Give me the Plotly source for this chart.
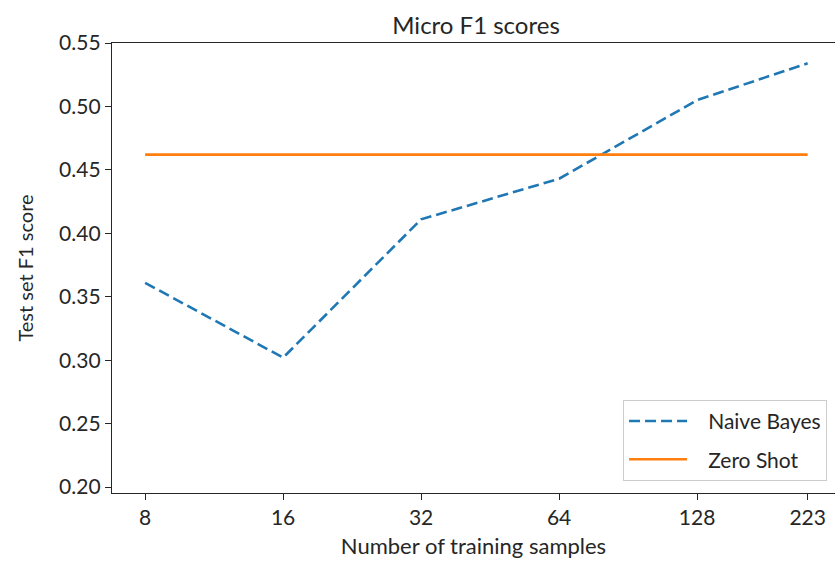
import numpy as np
import plotly.graph_objects as go

# Training set sizes and micro-averaged F1 on the test set
train_samples = [8, 16, 32, 64, 128, 223]
naive_bayes_f1 = [0.361, 0.302, 0.411, 0.443, 0.505, 0.534]
zero_shot_f1 = [0.462, 0.462, 0.462, 0.462, 0.462, 0.462]
tick_labels = ["8", "16", "32", "64", "128", "223"]
series_names = ["Naive Bayes", "Zero Shot"]

FONT = "Lato"
INK = "#262626"
GAP = "\u00a0" * 3  # breathing room between legend line and its label

fig = go.Figure()
fig.add_trace(go.Scatter(
    x=train_samples, y=naive_bayes_f1, mode="lines", name=GAP + series_names[0],
    legendgroup="nb",
    line=dict(color="#1f77b4", width=2.6, dash="11px,5px"),
))
fig.add_trace(go.Scatter(
    x=train_samples, y=zero_shot_f1, mode="lines", name=GAP + series_names[1],
    legendgroup="zs",
    line=dict(color="#ff7f0e", width=2.6),
))

# log2-spaced x axis with 5% padding on the left; the right side runs past the page
lo, hi = np.log10(train_samples[0]), np.log10(train_samples[-1])
pad = 0.05 * (hi - lo)
x_start = lo - pad
x_end = x_start + 723 * np.log10(2) / 138

fig.update_layout(
    width=835, height=567,
    margin=dict(l=112, r=0, t=43, b=74),
    paper_bgcolor="white", plot_bgcolor="white",
    font=dict(family=FONT, size=20, color=INK),
    title=dict(text="Micro F1 scores", x=0.5035, xref="paper", xanchor="center",
               y=1, yref="paper", yanchor="bottom", pad=dict(b=9),
               font=dict(family=FONT, size=24, color=INK)),
    showlegend=True,
    legend=dict(x=0.989, y=0.027, xanchor="right", yanchor="bottom",
                bgcolor="white", bordercolor="#cccccc", borderwidth=1,
                font=dict(family=FONT, size=21, color=INK),
                itemwidth=58, tracegroupgap=8),
)
fig.update_xaxes(
    type="log", range=[x_start, x_end],
    tickmode="array", tickvals=train_samples, ticktext=tick_labels,
    ticks="outside", ticklen=6, tickwidth=1.2, tickcolor=INK,
    showline=True, linecolor=INK, linewidth=1.4, mirror=True,
    showgrid=False, zeroline=False,
    tickfont=dict(family=FONT, size=21, color=INK),
    title=dict(text="Number of training samples", standoff=10,
               font=dict(family=FONT, size=22, color=INK)),
)
fig.update_yaxes(
    range=[0.1953, 0.55],
    tickmode="array", tickvals=[0.20, 0.25, 0.30, 0.35, 0.40, 0.45, 0.50, 0.55],
    tickformat=".2f",
    ticks="outside", ticklen=6, tickwidth=1.2, tickcolor=INK,
    showline=True, linecolor=INK, linewidth=1.4, mirror=False,
    showgrid=False, zeroline=False,
    tickfont=dict(family=FONT, size=21, color=INK),
    title=dict(text="Test set F1 score", standoff=20,
               font=dict(family=FONT, size=20, color=INK)),
)

fig.write_html("out.html")
